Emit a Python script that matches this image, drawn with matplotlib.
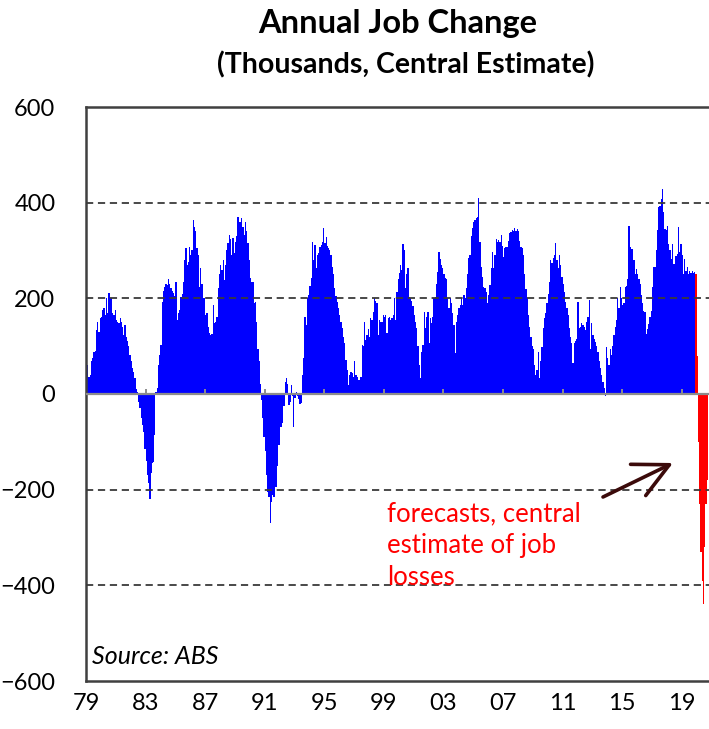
import matplotlib.pyplot as plt
import numpy as np

# annual change in employment, thousands, monthly from 1979
actual = [
    68, 60, 36, 40, 68, 75, 88, 90, 134, 151, 130, 158,
    160, 176, 180, 165, 200, 170, 212, 200, 200, 169, 165, 175,
    155, 150, 148, 158, 150, 141, 123, 144, 120, 110, 100, 82,
    68, 55, 45, 33, 10, 5, -16, -30, -51, -65, -80, -114,
    -140, -170, -187, -220, -165, -145, -142, -86, 5, 12, 60, 82,
    102, 193, 215, 224, 231, 228, 240, 231, 221, 215, 212, 205,
    235, 155, 169, 175, 203, 210, 235, 280, 305, 270, 275, 308,
    290, 300, 364, 350, 340, 305, 290, 224, 263, 230, 200, 200,
    165, 169, 140, 127, 123, 125, 186, 148, 151, 160, 221, 250,
    270, 259, 280, 238, 270, 300, 315, 332, 325, 290, 326, 294,
    318, 330, 369, 360, 360, 367, 350, 332, 360, 340, 315, 280,
    242, 235, 235, 190, 193, 150, 95, 68, 20, -13, -50, -89,
    -120, -170, -204, -215, -270, -225, -211, -215, -194, -194, -150, -107,
    -68, -68, -60, -26, 26, 33, 20, -23, -16, 19, -5, -68,
    -9, 5, -5, -10, -20, -18, 40, 75, 162, 144, 200, 207,
    225, 242, 318, 280, 311, 263, 290, 295, 308, 311, 318, 348,
    315, 329, 310, 305, 301, 290, 266, 250, 221, 205, 193, 180,
    165, 150, 137, 120, 106, 71, 50, 19, 40, 47, 43, 35,
    70, 40, 36, 30, 29, 36, 102, 100, 151, 113, 123, 135,
    120, 158, 155, 172, 200, 195, 190, 123, 155, 151, 150, 165,
    160, 165, 127, 158, 160, 155, 158, 165, 200, 155, 214, 240,
    252, 270, 260, 313, 301, 221, 250, 263, 203, 200, 195, 183,
    165, 150, 137, 100, 61, 33, 88, 102, 172, 137, 160, 172,
    106, 158, 148, 160, 200, 203, 230, 256, 297, 283, 270, 263,
    250, 242, 240, 200, 179, 200, 190, 170, 144, 85, 151, 165,
    179, 186, 200, 186, 207, 200, 221, 250, 284, 290, 330, 346,
    360, 364, 367, 370, 410, 318, 266, 245, 224, 221, 214, 190,
    207, 228, 263, 297, 263, 290, 325, 318, 322, 318, 332, 310,
    287, 305, 308, 308, 320, 336, 339, 343, 340, 346, 340, 345,
    340, 320, 308, 305, 290, 250, 220, 200, 165, 140, 120, 100,
    95, 60, 40, 50, 88, 33, 70, 99, 137, 158, 169, 190,
    210, 235, 280, 273, 284, 290, 315, 280, 263, 290, 270, 245,
    230, 214, 193, 180, 165, 137, 120, 106, 64, 106, 110, 116,
    193, 137, 141, 148, 144, 140, 134, 151, 160, 197, 95, 148,
    123, 115, 109, 100, 88, 68, 55, 40, 26, 12, -5, 99,
    75, 61, 95, 82, 100, 123, 140, 155, 200, 179, 224, 200,
    186, 190, 223, 226, 240, 352, 307, 303, 303, 280, 251, 261,
    251, 240, 230, 206, 190, 174, 171, 125, 136, 146, 160, 174,
    223, 265, 265, 300, 342, 390, 394, 408, 429, 380, 345, 342,
    352, 314, 300, 282, 314, 272, 272, 289, 293, 349, 296, 314,
    290, 251, 282, 258, 265, 251, 258, 254, 258, 254, 255,
]
forecast = [250, 80, -100, -230, -330, -390, -440, -320, -230, -180]
year_labels = ['79', '83', '87', '91', '95', '99', '03', '07', '11', '15', '19']

plt.rcParams['font.family'] = ['Lato', 'DejaVu Sans']

fig = plt.figure(figsize=(7.09, 7.29), dpi=100)
ax = fig.add_axes([86 / 709, 48 / 729, 623 / 709, 574 / 729])

x_act = np.arange(len(actual))
x_fc = np.arange(len(actual), len(actual) + len(forecast))
ax.bar(x_act, actual, width=1.0, align='edge', color='#0000ff',
       linewidth=0, antialiased=False, zorder=2)
ax.bar(x_fc, forecast, width=1.0, align='edge', color='#ff0000',
       linewidth=0, antialiased=False, zorder=2)

for y in [-400, -200, 200, 400]:
    ax.axhline(y, color='#3a3a3a', lw=1.3, ls=(0, (4, 2.6)), zorder=3)
ax.axhline(0, color='#8c8c8c', lw=1.6, zorder=4)

ticks = np.arange(len(year_labels)) * 48
ax.vlines(ticks[1:], 0, 11, color='#8c8c8c', lw=1.4, zorder=4)

ax.set_xlim(0, 502)
ax.set_ylim(-600, 600)
ax.set_xticks(ticks)
ax.set_xticklabels(year_labels)
ax.set_yticks(range(-600, 601, 200))
ax.tick_params(axis='both', length=0, labelsize=17, colors='#000000')
ax.tick_params(axis='y', pad=22)
ax.tick_params(axis='x', pad=9)

for side in ['left', 'top', 'bottom']:
    ax.spines[side].set_color('#404040')
    ax.spines[side].set_linewidth(1.8)
ax.spines['right'].set_visible(False)

fig.text(398 / 709, 1 - 23 / 729, 'Annual Job Change', ha='center',
         va='center', fontsize=23.5, fontweight='bold')
fig.text(406 / 709, 1 - 65 / 729, '(Thousands, Central Estimate)',
         ha='center', va='center', fontsize=20.5, fontweight='bold')

fig.text(92 / 709, 1 - 657 / 729, 'Source: ABS', fontsize=18,
         fontstyle='italic', va='center')
fig.text(387 / 709, 1 - 501 / 729, 'forecasts, central\nestimate of job\nlosses',
         color='#ff0000', fontsize=18.5, va='top', linespacing=1.36)

ax.annotate('', xy=(673, 729 - 463), xytext=(603, 729 - 497),
            xycoords='figure pixels', textcoords='figure pixels',
            arrowprops=dict(arrowstyle='->, head_length=1.0, head_width=0.5',
                            color='#3b0a0a', lw=2.6, mutation_scale=25,
                            shrinkA=0, shrinkB=0))

fig.savefig('out.png', dpi=100)
